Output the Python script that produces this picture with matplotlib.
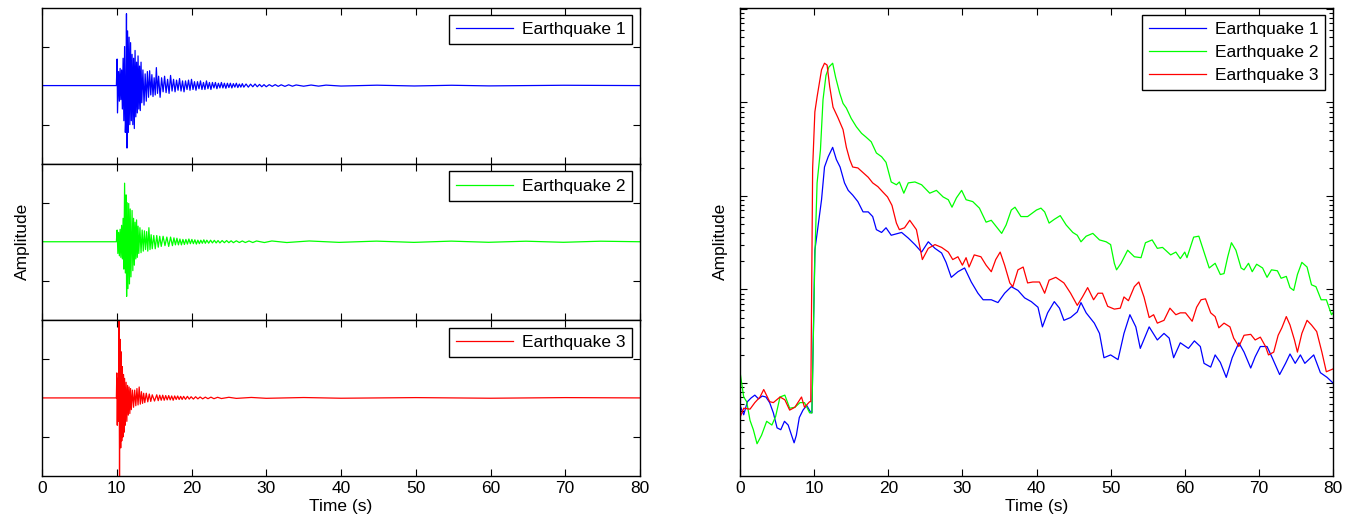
import numpy as np
import matplotlib
matplotlib.use("Agg")
import matplotlib.pyplot as plt
from matplotlib.ticker import NullFormatter

plt.rcParams['font.family'] = ['Liberation Sans', 'DejaVu Sans']
plt.rcParams['font.size'] = 12.5

# seismograms: (time s, normalised amplitude) peaks
eq1_trace = [(0, 0), (9.95, 0), (10.05, 0.34), (10.1, -0.35), (10.25, 0.18), (10.35, -0.2),
             (10.45, 0.22), (10.55, -0.18), (10.65, 0.2), (10.75, -0.3), (10.85, 0.35),
             (10.95, -0.45), (11.05, 0.5), (11.15, -0.6), (11.22, -0.4), (11.3, 0.92),
             (11.37, -0.8), (11.45, 0.7), (11.55, -0.6), (11.65, 0.62), (11.75, -0.5),
             (11.85, 0.55), (11.95, -0.45), (12.05, 0.4), (12.15, -0.5), (12.25, 0.35),
             (12.35, -0.55), (12.45, 0.45), (12.55, -0.4), (12.65, 0.3), (12.75, -0.35),
             (12.85, 0.38), (12.95, -0.3), (13.05, 0.25), (13.15, -0.32), (13.25, 0.3),
             (13.35, -0.22), (13.5, 0.2), (13.65, -0.25), (13.8, 0.15), (13.95, -0.2),
             (14.1, 0.18), (14.25, -0.15), (14.4, 0.19), (14.55, -0.12), (14.7, 0.14),
             (14.85, -0.14), (15.0, 0.1), (15.15, -0.12), (15.3, 0.23), (15.45, -0.1),
             (15.6, 0.12), (15.8, -0.15), (16.0, 0.1), (16.2, -0.08), (16.4, 0.12),
             (16.6, -0.09), (16.8, 0.08), (17.0, -0.1), (17.2, 0.13), (17.4, -0.07),
             (17.6, 0.08), (17.8, -0.08), (18.0, 0.07), (18.2, -0.06), (18.4, 0.09),
             (18.6, -0.07), (18.8, 0.06), (19.0, -0.08), (19.2, 0.06), (19.4, -0.05),
             (19.6, 0.07), (19.8, -0.06), (20.0, 0.08), (20.2, -0.05), (20.4, 0.05),
             (20.6, -0.06), (20.8, 0.05), (21.0, -0.04), (21.2, 0.06), (21.4, -0.05),
             (21.6, 0.04), (21.8, -0.05), (22.0, 0.06), (22.2, -0.04), (22.4, 0.04),
             (22.6, -0.05), (22.8, 0.04), (23.0, -0.03), (23.2, 0.04), (23.4, -0.04),
             (23.6, 0.03), (23.8, -0.03), (24.0, 0.04), (24.2, -0.03), (24.4, 0.03),
             (24.6, -0.035), (24.8, 0.03), (25.0, -0.025), (25.2, 0.03), (25.4, -0.03),
             (25.6, 0.025), (25.8, -0.02), (26.0, 0.03), (26.2, -0.025), (26.4, 0.02),
             (26.6, -0.02), (26.8, 0.025), (27.0, -0.02), (27.3, 0.02), (27.6, -0.02),
             (27.9, 0.018), (28.2, -0.015), (28.5, 0.02), (28.8, -0.015), (29.1, 0.015),
             (29.4, -0.015), (29.7, 0.012), (30.0, -0.015), (30.4, 0.012), (30.8, -0.01),
             (31.2, 0.012), (31.6, -0.01), (32.0, 0.01), (32.5, -0.01), (33.0, 0.01),
             (33.5, -0.008), (34.0, 0.008), (35.0, -0.008), (36.0, 0.007), (37.0, -0.007),
             (38.0, 0.006), (40.0, -0.006), (44.8, 0.005), (49.8, -0.005), (54.8, 0.004),
             (59.8, -0.004), (69.8, 0.004), (80, 0)]

eq2_trace = [(0, 0), (9.95, 0), (10.05, 0.15), (10.15, -0.15), (10.25, 0.12), (10.35, -0.18),
             (10.45, 0.16), (10.55, -0.2), (10.65, 0.21), (10.75, -0.22), (10.85, 0.3),
             (10.95, -0.35), (11.05, 0.75), (11.15, -0.4), (11.25, 0.6), (11.32, -0.7),
             (11.4, 0.5), (11.5, -0.6), (11.6, 0.49), (11.7, -0.54), (11.8, 0.42),
             (11.9, -0.45), (12.05, 0.4), (12.15, -0.37), (12.25, 0.3), (12.35, -0.3),
             (12.45, 0.25), (12.55, -0.22), (12.65, 0.28), (12.75, -0.2), (12.85, 0.2),
             (12.95, -0.15), (13.1, 0.18), (13.25, -0.14), (13.4, 0.15), (13.55, -0.12),
             (13.7, 0.14), (13.85, -0.1), (14.0, 0.13), (14.15, -0.12), (14.3, 0.18),
             (14.45, -0.1), (14.6, 0.09), (14.75, -0.09), (14.95, 0.08), (15.15, -0.09),
             (15.35, 0.08), (15.55, -0.07), (15.75, 0.07), (15.95, -0.06), (16.2, 0.07),
             (16.45, -0.05), (16.7, 0.06), (16.95, -0.06), (17.2, 0.06), (17.45, -0.05),
             (17.65, 0.05), (17.85, -0.04), (18.05, 0.045), (18.25, -0.04), (18.45, 0.035),
             (18.65, -0.04), (18.85, 0.03), (19.05, -0.035), (19.25, 0.03), (19.45, -0.03),
             (19.65, 0.035), (19.85, -0.025), (20.05, 0.03), (20.25, -0.025), (20.45, 0.025),
             (20.65, -0.03), (20.85, 0.02), (21.05, -0.025), (21.25, 0.02), (21.45, -0.02),
             (21.65, 0.025), (21.85, -0.02), (22.05, 0.02), (22.3, -0.018), (22.55, 0.02),
             (22.8, -0.015), (23.05, 0.018), (23.3, -0.015), (23.55, 0.015), (23.8, -0.015),
             (24.1, 0.015), (24.4, -0.012), (24.7, 0.015), (25.0, -0.012), (25.3, 0.012),
             (25.6, -0.012), (26.0, 0.012), (26.4, -0.01), (26.8, 0.01), (27.2, -0.01),
             (27.7, 0.01), (28.2, -0.01), (28.7, 0.01), (29.75, -0.01), (30.75, 0.01),
             (32.75, -0.01), (35.75, 0.01), (39.75, -0.008), (44.75, 0.008), (49.75, -0.008),
             (54.75, 0.008), (59.75, -0.007), (64.75, 0.007), (69.75, -0.007), (74.75, 0.007),
             (80, 0)]

eq3_trace = [(0, 0), (9.95, 0), (10.01, 0.32), (10.07, -0.35), (10.15, 0.25), (10.23, -0.3),
             (10.3, 1.0), (10.37, -1.0), (10.45, 0.75), (10.53, -0.64), (10.6, 0.59),
             (10.67, -0.55), (10.75, 0.4), (10.83, -0.5), (10.9, 0.3), (10.97, -0.44),
             (11.05, 0.25), (11.15, -0.35), (11.25, 0.2), (11.35, -0.3), (11.45, 0.16),
             (11.55, -0.22), (11.65, 0.14), (11.75, -0.2), (11.85, 0.12), (11.95, -0.15),
             (12.1, 0.1), (12.25, -0.12), (12.4, 0.1), (12.55, -0.1), (12.7, 0.12),
             (12.85, -0.09), (13.0, 0.14), (13.15, -0.08), (13.3, 0.08), (13.45, -0.07),
             (13.6, 0.06), (13.75, -0.06), (13.95, 0.06), (14.15, -0.05), (14.35, 0.05),
             (14.55, -0.045), (14.75, 0.04), (15.05, -0.04), (15.35, 0.04), (15.55, -0.035),
             (15.75, 0.035), (15.95, -0.03), (16.15, 0.035), (16.35, -0.03), (16.55, 0.03),
             (16.75, -0.025), (16.95, 0.03), (17.15, -0.025), (17.35, 0.025), (17.55, -0.03),
             (17.75, 0.025), (17.95, -0.02), (18.15, 0.025), (18.35, -0.02), (18.55, 0.02),
             (18.75, -0.02), (18.95, 0.02), (19.2, -0.018), (19.45, 0.02), (19.7, -0.015),
             (19.95, 0.015), (20.25, -0.015), (20.55, 0.015), (20.85, -0.012), (21.15, 0.012),
             (21.5, -0.012), (21.85, 0.01), (22.2, -0.01), (22.6, 0.01), (23.0, -0.01),
             (23.5, 0.008), (24.0, -0.008), (25.0, 0.008), (26.0, -0.006), (28.0, 0.006),
             (30.0, -0.005), (35.0, 0.005), (40.0, -0.004), (50.0, 0.004), (60.0, -0.004),
             (70.0, 0.004), (80, 0)]

# envelopes: (time s, log10 amplitude)
eq1_env = [(0, 0.76), (0.5, 0.66), (1, 0.80), (1.5, 0.84), (2, 0.87), (2.5, 0.83), (3, 0.86),
           (3.5, 0.85), (4, 0.79), (4.5, 0.68), (5, 0.52), (5.5, 0.50), (6, 0.59), (6.5, 0.55),
           (7, 0.43), (7.3, 0.36), (7.6, 0.44), (8, 0.63), (8.5, 0.71), (9, 0.76), (9.5, 0.69),
           (9.7, 0.68), (10.1, 2.42), (11.0, 2.96), (11.4, 3.31), (11.9, 3.42), (12.5, 3.52),
           (13.0, 3.39), (13.5, 3.31), (14.1, 3.14), (14.6, 3.06), (15.2, 3.01), (15.9, 2.94),
           (16.6, 2.83), (17.3, 2.83), (17.9, 2.78), (18.4, 2.64), (19.1, 2.61), (19.7, 2.66),
           (20.4, 2.58), (21.8, 2.61), (22.7, 2.55), (23.6, 2.48), (24.5, 2.40), (25.4, 2.51),
           (26.3, 2.44), (27.2, 2.39), (27.8, 2.29), (28.5, 2.13), (29.4, 2.19), (30.3, 2.23),
           (31.2, 2.08), (32.1, 1.96), (32.8, 1.89), (33.9, 1.89), (34.8, 1.86), (35.7, 1.96),
           (36.6, 2.03), (37.5, 1.99), (38.4, 1.91), (39.3, 1.87), (40.2, 1.81), (40.8, 1.60),
           (41.5, 1.75), (42.4, 1.87), (43.1, 1.80), (43.7, 1.67), (44.6, 1.70), (45.5, 1.76),
           (46.0, 1.86), (46.7, 1.75), (47.8, 1.64), (48.5, 1.53), (49.1, 1.27), (50.0, 1.30),
           (51.0, 1.25), (51.8, 1.53), (52.6, 1.73), (53.4, 1.60), (54.0, 1.37), (55.2, 1.60),
           (56.3, 1.46), (57.2, 1.53), (57.9, 1.48), (58.5, 1.27), (59.4, 1.43), (60.5, 1.37),
           (61.3, 1.45), (62.1, 1.39), (62.6, 1.21), (63.5, 1.17), (64.1, 1.30), (64.8, 1.22),
           (65.6, 1.06), (66.4, 1.27), (67.3, 1.43), (68.0, 1.33), (68.9, 1.16), (69.5, 1.28),
           (70.2, 1.39), (71.1, 1.39), (71.8, 1.27), (72.8, 1.09), (73.6, 1.21), (74.2, 1.31),
           (74.9, 1.21), (75.6, 1.30), (76.2, 1.21), (77.4, 1.30), (78.3, 1.11), (79.2, 1.06),
           (80, 1.00)]

eq2_env = [(0, 1.12), (0.5, 0.85), (0.9, 0.80), (1.35, 0.60), (1.8, 0.50), (2.3, 0.35),
           (2.9, 0.44), (3.6, 0.59), (4.3, 0.55), (4.8, 0.64), (5.4, 0.85), (6.05, 0.87),
           (6.7, 0.73), (7.4, 0.74), (8.1, 0.79), (8.7, 0.79), (9.4, 0.68), (9.7, 0.68),
           (10.1, 2.35), (10.4, 3.14), (10.85, 3.49), (11.2, 4.03), (11.6, 4.29), (12.0, 4.38),
           (12.5, 4.42), (12.9, 4.27), (13.45, 4.10), (13.9, 3.99), (14.35, 3.94), (15.0, 3.83),
           (15.7, 3.74), (16.4, 3.67), (17.0, 3.63), (17.7, 3.58), (18.4, 3.46), (19.1, 3.42),
           (19.7, 3.36), (20.4, 3.15), (21.1, 3.12), (21.5, 3.15), (22.1, 3.03), (22.7, 3.14),
           (23.6, 3.15), (24.5, 3.12), (25.6, 3.03), (26.5, 3.06), (27.4, 2.99), (28.1, 2.96),
           (28.6, 2.88), (29.2, 2.98), (29.9, 3.06), (30.5, 2.96), (31.4, 2.94), (32.3, 2.87),
           (33.2, 2.72), (33.9, 2.74), (34.7, 2.66), (35.3, 2.60), (35.9, 2.69), (36.6, 2.85),
           (37.1, 2.88), (37.9, 2.78), (38.8, 2.78), (40.0, 2.85), (40.6, 2.87), (41.1, 2.83),
           (41.7, 2.71), (42.4, 2.75), (43.2, 2.79), (44.0, 2.69), (44.9, 2.61), (45.5, 2.58),
           (46.0, 2.51), (46.7, 2.57), (47.6, 2.60), (48.5, 2.53), (49.4, 2.51), (50.0, 2.48),
           (50.5, 2.28), (50.8, 2.21), (51.4, 2.28), (52.3, 2.42), (53.2, 2.35), (54.1, 2.34),
           (54.7, 2.50), (55.6, 2.53), (56.3, 2.44), (57.0, 2.45), (58.1, 2.37), (58.8, 2.40),
           (59.4, 2.33), (60.0, 2.40), (60.3, 2.34), (61.2, 2.56), (61.9, 2.57), (62.6, 2.40),
           (63.3, 2.23), (64.1, 2.28), (64.8, 2.16), (65.3, 2.17), (65.8, 2.35), (66.3, 2.50),
           (66.9, 2.42), (67.6, 2.23), (68.0, 2.21), (68.6, 2.28), (69.1, 2.19), (69.7, 2.27),
           (70.5, 2.23), (71.1, 2.13), (71.7, 2.21), (72.5, 2.20), (73.0, 2.12), (73.7, 2.14),
           (74.2, 2.02), (74.7, 1.99), (75.2, 2.16), (75.8, 2.29), (76.5, 2.24), (77.1, 2.05),
           (77.7, 2.03), (78.4, 1.89), (79.1, 1.89), (79.8, 1.73), (80, 1.75)]

eq3_env = [(0, 0.63), (0.5, 0.73), (1.35, 0.72), (2.0, 0.79), (2.7, 0.85), (3.2, 0.93),
           (4.0, 0.80), (4.5, 0.79), (5.4, 0.85), (6.05, 0.82), (6.7, 0.71), (7.4, 0.74),
           (8.3, 0.85), (8.7, 0.74), (9.4, 0.80), (9.55, 0.80), (9.8, 3.30), (10.1, 3.90),
           (10.4, 4.06), (11.0, 4.35), (11.4, 4.42), (11.75, 4.40), (12.1, 4.17), (12.55, 3.95),
           (13.2, 3.84), (13.9, 3.71), (14.35, 3.52), (14.8, 3.39), (15.2, 3.31), (15.9, 3.30),
           (16.6, 3.25), (17.3, 3.20), (17.9, 3.14), (18.6, 3.10), (19.3, 3.04), (19.9, 2.99),
           (20.5, 2.90), (21.1, 2.71), (21.5, 2.64), (22.2, 2.66), (22.9, 2.74), (23.8, 2.64),
           (24.6, 2.32), (25.4, 2.44), (26.3, 2.48), (27.2, 2.45), (28.1, 2.40), (28.7, 2.32),
           (29.4, 2.35), (30.0, 2.26), (30.5, 2.34), (30.9, 2.24), (31.6, 2.37), (32.5, 2.35),
           (33.2, 2.26), (33.9, 2.19), (34.5, 2.32), (35.1, 2.40), (35.7, 2.26), (36.4, 2.07),
           (36.8, 2.03), (37.5, 2.21), (38.2, 2.24), (38.8, 2.07), (39.5, 2.08), (40.4, 2.08),
           (41.1, 1.96), (41.7, 2.10), (42.6, 2.13), (43.7, 2.07), (44.6, 1.96), (45.5, 1.83),
           (46.2, 1.92), (46.9, 2.02), (47.7, 1.89), (48.3, 1.96), (48.9, 1.96), (49.6, 1.82),
           (50.5, 1.79), (51.3, 1.80), (51.8, 1.92), (52.4, 1.88), (53.2, 2.03), (53.8, 2.08),
           (54.5, 1.92), (55.2, 1.70), (55.8, 1.73), (56.3, 1.64), (57.2, 1.67), (58.0, 1.80),
           (58.8, 1.73), (59.4, 1.75), (60.1, 1.75), (61.0, 1.66), (61.6, 1.81), (62.2, 1.89),
           (62.8, 1.90), (63.5, 1.75), (64.1, 1.71), (64.6, 1.59), (65.3, 1.64), (66.1, 1.60),
           (66.6, 1.48), (67.3, 1.39), (68.0, 1.51), (68.9, 1.52), (69.5, 1.46), (70.2, 1.49),
           (70.9, 1.39), (71.3, 1.30), (72.0, 1.33), (72.6, 1.51), (73.1, 1.59), (73.7, 1.71),
           (74.2, 1.62), (74.8, 1.46), (75.2, 1.33), (75.8, 1.53), (76.5, 1.67), (77.1, 1.62),
           (77.8, 1.55), (78.5, 1.33), (79.1, 1.12), (80, 1.15)]

labels = ['Earthquake 1', 'Earthquake 2', 'Earthquake 3']
colors = ['#0000ff', '#00ff00', '#ff0000']
traces = [eq1_trace, eq2_trace, eq3_trace]
envs = [eq1_env, eq2_env, eq3_env]
xticks = [0, 10, 20, 30, 40, 50, 60, 70, 80]

fig = plt.figure(figsize=(13.54, 5.27), dpi=100)

top = 1 - 7.5 / 527
bottom = 1 - 476 / 527
h = (top - bottom) / 3
left_l, width_l = 42 / 1354, 598 / 1354
left_r, width_r = 740 / 1354, 593 / 1354

leg_kw = dict(loc='upper right', fancybox=False, edgecolor='black', framealpha=1,
              handlelength=3.3, handletextpad=0.5, borderpad=0.4, labelspacing=0.45,
              borderaxespad=0.45, fontsize=12.5)


def style(ax):
    ax.tick_params(which='both', direction='in', top=True, right=True, width=0.8)
    ax.tick_params(which='major', length=5)
    ax.tick_params(which='minor', length=3)
    for s in ax.spines.values():
        s.set_linewidth(1.0)


# left: stacked seismograms
for i in range(3):
    ax = fig.add_axes([left_l, top - (i + 1) * h, width_l, h])
    t, a = zip(*traces[i])
    ax.plot(t, a, color=colors[i], lw=0.9, label=labels[i])
    ax.set_xlim(0, 80)
    ax.set_ylim(-1, 1)
    ax.set_xticks(xticks)
    ax.set_yticks([-0.5, 0.5])
    ax.set_yticklabels([])
    style(ax)
    ax.legend(**leg_kw)
    if i < 2:
        ax.set_xticklabels([])
    else:
        ax.set_xlabel('Time (s)', labelpad=2)
    if i == 1:
        ax.set_ylabel('Amplitude', labelpad=5)

# right: envelopes on log scale
axr = fig.add_axes([left_r, bottom, width_r, top - bottom])
for i in range(3):
    t, L = zip(*envs[i])
    axr.plot(t, 10 ** np.array(L), color=colors[i], lw=0.9, label=labels[i])
axr.set_yscale('log')
axr.set_xlim(0, 80)
axr.set_ylim(10 ** 0.005, 10 ** 5.016)
axr.set_xticks(xticks)
axr.yaxis.set_major_formatter(NullFormatter())
axr.yaxis.set_minor_formatter(NullFormatter())
style(axr)
axr.set_xlabel('Time (s)', labelpad=2)
axr.set_ylabel('Amplitude', labelpad=5)
axr.legend(**leg_kw)

fig.savefig('out.png', dpi=100)
